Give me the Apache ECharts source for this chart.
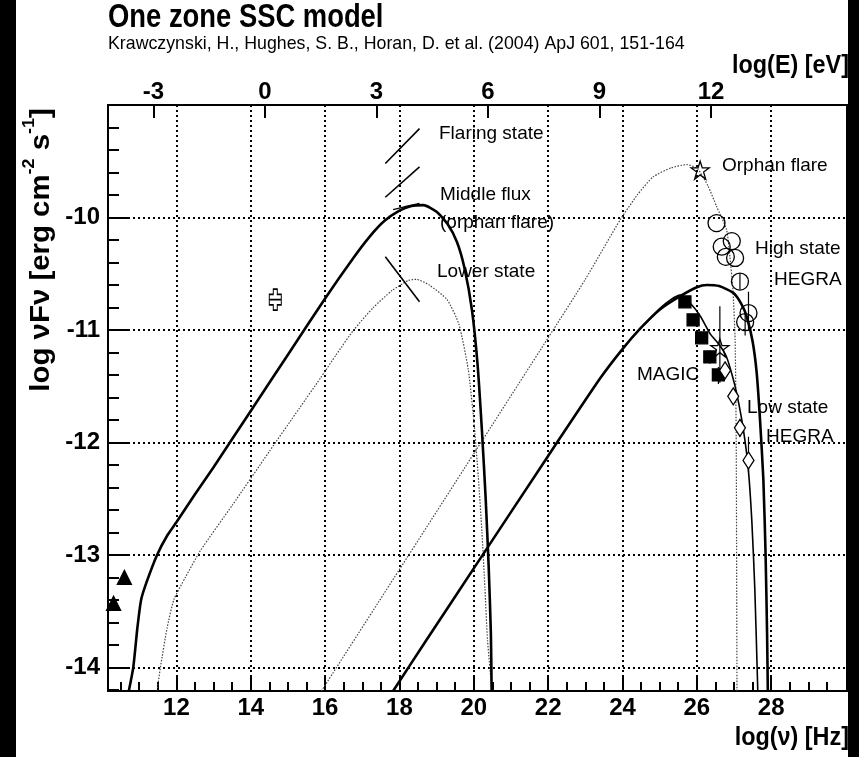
<!DOCTYPE html>
<html><head><meta charset="utf-8">
<script src="https://cdn.jsdelivr.net/npm/echarts@6/dist/echarts.min.js"></script>
<style>html,body{margin:0;padding:0;background:#fff}#c{width:859px;height:757px}</style>
</head><body><div id="c"></div><script>
// ---- axes ----
const X_MIN = 10.16, X_MAX = 30.04;
const Y_MIN = -14.21, Y_MAX = -9.0;
const LOG_H = 14.383; // log(nu/Hz) - log(E/eV)
const xTicks = [12, 14, 16, 18, 20, 22, 24, 26, 28];
const xMinor = [10.5, 11, 11.5, 12.5, 13, 13.5, 14.5, 15, 15.5, 16.5, 17, 17.5, 18.5, 19, 19.5, 20.5, 21, 21.5, 22.5, 23, 23.5, 24.5, 25, 25.5, 26.5, 27, 27.5, 28.5, 29, 29.5];
const eTicks = [-3, 0, 3, 6, 9, 12];
const yTicks = [-14, -13, -12, -11, -10];
const yMinor = [-14.2, -13.8, -13.6, -13.4, -13.2, -12.8, -12.6, -12.4, -12.2, -11.8, -11.6, -11.4, -11.2, -10.8, -10.6, -10.4, -10.2, -9.8, -9.6, -9.4, -9.2];

// ---- model curves [log nu, log nuFnu] ----
const syncMiddle = [[10.72,-14.21],[10.84,-14.0],[10.95,-13.65],[11.05,-13.40],[11.2,-13.24],[11.48,-13.0],[11.75,-12.83],[12.0,-12.71],[12.5,-12.46],[13.0,-12.22],[14.0,-11.72],[15.0,-11.22],[16.0,-10.72],[16.76,-10.36],[17.2,-10.17],[17.6,-10.03],[18.0,-9.94],[18.3,-9.90],[18.65,-9.89],[19.0,-9.95],[19.3,-10.06],[19.55,-10.22],[19.75,-10.45],[19.95,-10.82],[20.1,-11.3],[20.22,-11.9],[20.32,-12.5],[20.4,-13.1],[20.46,-13.7],[20.48,-14.21]];
const syncMiddleAlt = [[17.83,-9.93],[18.2,-9.9],[18.54,-9.875]];
const syncLower = [[11.48,-14.21],[11.57,-14.0],[11.75,-13.65],[11.93,-13.40],[12.24,-13.20],[12.65,-12.96],[13.5,-12.56],[14.5,-12.08],[15.3,-11.7],[15.87,-11.43],[16.3,-11.22],[16.77,-11.0],[17.3,-10.8],[17.8,-10.65],[18.24,-10.56],[18.45,-10.55],[18.8,-10.6],[19.28,-10.73],[19.6,-10.95],[19.85,-11.35],[20.0,-11.8],[20.12,-12.3],[20.22,-12.8],[20.3,-13.3],[20.37,-13.76],[20.49,-14.21]];
const icMiddle = [[17.83,-14.21],[18.7,-13.77],[20,-13.12],[22,-12.12],[23.4,-11.43],[24.0,-11.17],[24.5,-10.98],[25.0,-10.82],[25.55,-10.70],[26.0,-10.62],[26.27,-10.60],[26.6,-10.61],[26.98,-10.67],[27.2,-10.77],[27.34,-10.88],[27.5,-11.1],[27.61,-11.38],[27.7,-11.8],[27.79,-12.33],[27.85,-13.0],[27.89,-13.7],[27.91,-14.21]];
const icLow = [[24.6,-10.95],[25.0,-10.81],[25.3,-10.73],[25.55,-10.69],[25.82,-10.76],[26.1,-10.88],[26.35,-11.03],[26.6,-11.13],[26.8,-11.24],[26.95,-11.40],[27.07,-11.56],[27.24,-11.86],[27.38,-12.22],[27.48,-12.7],[27.56,-13.3],[27.64,-14.21]];
const icOrphan = [[15.9,-14.21],[18,-13.13],[20,-12.1],[22,-11.07],[23.0,-10.55],[23.94,-10.02],[24.4,-9.8],[24.82,-9.64],[25.3,-9.56],[25.73,-9.53],[26.03,-9.57],[26.3,-9.72],[26.53,-9.90],[26.8,-10.11],[26.89,-10.35],[26.97,-10.64],[27.03,-11.09],[27.06,-12.0],[27.07,-13.0],[27.08,-14.21]];
const xrayFlaring = [[17.62,-9.52],[18.54,-9.21]];
const xrayMiddle = [[17.62,-9.82],[18.54,-9.55]];
const xrayLower = [[17.62,-10.35],[18.54,-10.75]];

// ---- data points ----
const radioPts = [[10.31,-13.43],[10.60,-13.20]];
const opticalPts = [[14.66,-10.73]];
const magicPts = [[25.68,-10.75],[25.90,-10.91],[26.13,-11.07],[26.35,-11.24],[26.58,-11.40]];
const hegraHighPts = [[26.53,-10.05],[26.67,-10.26],[26.94,-10.21],[26.78,-10.35],[27.03,-10.36],[27.16,-10.57],[27.39,-10.85],[27.30,-10.93]];
const orphanPts = [[26.09,-9.58],[26.62,-11.16]];
const hegraLowPts = [[26.76,-11.36],[26.98,-11.59],[27.16,-11.87],[27.39,-12.16]];
const errBars = [[26.62,-10.79,-11.47],[27.39,-10.66,-10.99],[27.30,-10.85,-11.05],[27.16,-10.50,-10.64],[27.39,-11.95,-12.26],[27.16,-11.80,-11.95],[26.35,-11.18,-11.30],[26.58,-11.33,-11.48]];

const F = '"Liberation Sans", Arial, sans-serif';
const STAR = 'path://M50,0 L61.8,35.4 L100,35.4 L69.1,57.3 L80.9,95.1 L50,72.4 L19.1,95.1 L30.9,57.3 L0,35.4 L38.2,35.4 Z';
const CROSS = 'path://M4,0 L8,0 L8,5 L12,5 L12,15 L8,15 L8,20 L4,20 L4,15 L0,15 L0,5 L4,5 Z M0,10 L12,10';

function curve(data, width, type, color) {
  return {type:'line', data, showSymbol:false, symbol:'none', smooth:0.2, z:3,
    lineStyle:{width, type, color: color || '#000'}};
}
function pts(data, symbol, size, fill, z) {
  return {type:'scatter', data, symbol, symbolSize:size, z: z || 5,
    itemStyle:{color:fill, borderColor:'#000', borderWidth:1.3, opacity:1}};
}
const tickLab = {fontFamily:F, fontWeight:'bold', fontSize:24, color:'#000'};
function label(text, x, y) {
  return {type:'text', x, y, style:{text, font:'19px ' + F, fill:'#000', verticalAlign:'middle'}};
}

const chart = echarts.init(document.getElementById('c'), null, {renderer:'canvas'});
chart.setOption({
  animation:false,
  backgroundColor:'#fff',
  grid:{left:108, top:105, right:12, bottom:66, show:true, borderColor:'#000', borderWidth:2, backgroundColor:'#fff'},
  xAxis:[
    {type:'value', position:'bottom', min:X_MIN, max:X_MAX,
     axisLine:{show:true, onZero:false, lineStyle:{color:'#000', width:2}},
     axisTick:{show:true, inside:true, length:16, customValues:xTicks, lineStyle:{color:'#000', width:2}},
     axisLabel:{customValues:xTicks, margin:5, ...tickLab},
     splitLine:{show:true, lineStyle:{color:'#000', width:2, type:[2,3]}}},
    {type:'value', position:'bottom', min:X_MIN, max:X_MAX,
     axisLine:{show:false, onZero:false},
     axisTick:{show:true, inside:true, length:9, customValues:xMinor, lineStyle:{color:'#000', width:2}},
     axisLabel:{show:false}, splitLine:{show:false}},
    {type:'value', position:'top', min:X_MIN - LOG_H, max:X_MAX - LOG_H,
     axisLine:{show:true, onZero:false, lineStyle:{color:'#000', width:2}},
     axisTick:{show:true, inside:true, length:13, customValues:eTicks, lineStyle:{color:'#000', width:2}},
     axisLabel:{customValues:eTicks, margin:1, ...tickLab},
     splitLine:{show:false}}
  ],
  yAxis:[
    {type:'value', position:'left', min:Y_MIN, max:Y_MAX,
     axisLine:{show:true, onZero:false, lineStyle:{color:'#000', width:2}},
     axisTick:{show:true, inside:true, length:22, customValues:yTicks, lineStyle:{color:'#000', width:2}},
     axisLabel:{customValues:yTicks, margin:8, ...tickLab},
     splitLine:{show:true, lineStyle:{color:'#000', width:2, type:[2,3]}}},
    {type:'value', position:'left', min:Y_MIN, max:Y_MAX,
     axisLine:{show:false, onZero:false},
     axisTick:{show:true, inside:true, length:11, customValues:yMinor, lineStyle:{color:'#000', width:2}},
     axisLabel:{show:false}, splitLine:{show:false}}
  ],
  series:[
    curve(syncLower, 1.2, [1.5,1.5], '#444'),
    curve(icOrphan, 1.2, [1.5,1.5], '#444'),
    curve(syncMiddle, 2.6, 'solid'),
    curve(syncMiddleAlt, 1.3, 'solid'),
    curve(icMiddle, 2.6, 'solid'),
    curve(icLow, 1.6, 'solid'),
    curve(xrayFlaring, 1.6, 'solid'),
    curve(xrayMiddle, 1.6, 'solid'),
    curve(xrayLower, 1.6, 'solid'),
    {type:'custom', data:errBars, z:4, encode:{x:0, y:[1,2]},
     renderItem:function(params, api){
       const a = api.coord([api.value(0), api.value(1)]);
       const b = api.coord([api.value(0), api.value(2)]);
       return {type:'line', shape:{x1:a[0], y1:a[1], x2:b[0], y2:b[1]}, style:{stroke:'#000', lineWidth:1.2}};
     }},
    pts(radioPts, 'triangle', 14, '#000'),
    pts(opticalPts, CROSS, [12,21], '#fff'),
    pts(magicPts, 'rect', 12, '#000'),
    pts(hegraHighPts, 'circle', 17, 'rgba(255,255,255,0.0)'),
    pts(orphanPts, STAR, 18, 'rgba(255,255,255,0.0)'),
    pts(hegraLowPts, 'diamond', [11,17], '#fff')
  ],
  graphic:[
    {type:'rect', left:0, top:0, shape:{width:16, height:757}, style:{fill:'#000'}, z:100},
    {type:'rect', left:848, top:0, shape:{width:11, height:757}, style:{fill:'#000'}, z:100},
    {type:'text', x:108, y:1, scaleX:0.83, style:{text:'One zone SSC model', font:'bold 33px ' + F, fill:'#000'}},
    {type:'text', x:108, y:34, scaleX:0.935, style:{text:'Krawczynski, H., Hughes, S. B., Horan, D. et al. (2004) ApJ 601, 151-164', font:'19px ' + F, fill:'#000'}},
    {type:'text', x:849, y:66, scaleX:0.9, style:{text:'log(E) [eV]', font:'bold 26px ' + F, fill:'#000', align:'right', verticalAlign:'middle'}},
    {type:'text', x:849, y:738, scaleX:0.9, style:{text:'log(ν) [Hz]', font:'bold 26px ' + F, fill:'#000', align:'right', verticalAlign:'middle'}},
    {type:'text', x:38, y:250, rotation:Math.PI/2, scaleX:1.05, style:{
      text:'{b|log νFν [erg cm}{s|-2}{b| s}{s|-1}{b|]}', align:'center', verticalAlign:'middle', fill:'#000',
      rich:{b:{fontSize:28, fontWeight:'bold', fontFamily:F, lineHeight:34, verticalAlign:'bottom'},
            s:{fontSize:17, fontWeight:'bold', fontFamily:F, lineHeight:34, verticalAlign:'top'}}}},
    label('Flaring state', 439, 134),
    label('Middle flux', 440, 195),
    label('(orphan flare)', 440, 223),
    label('Lower state', 437, 272),
    label('Orphan flare', 722, 166),
    label('High state', 755, 249),
    label('HEGRA', 774, 280),
    label('MAGIC', 637, 375),
    label('Low state', 747, 408),
    label('HEGRA', 766, 437)
  ]
});
</script></body></html>
